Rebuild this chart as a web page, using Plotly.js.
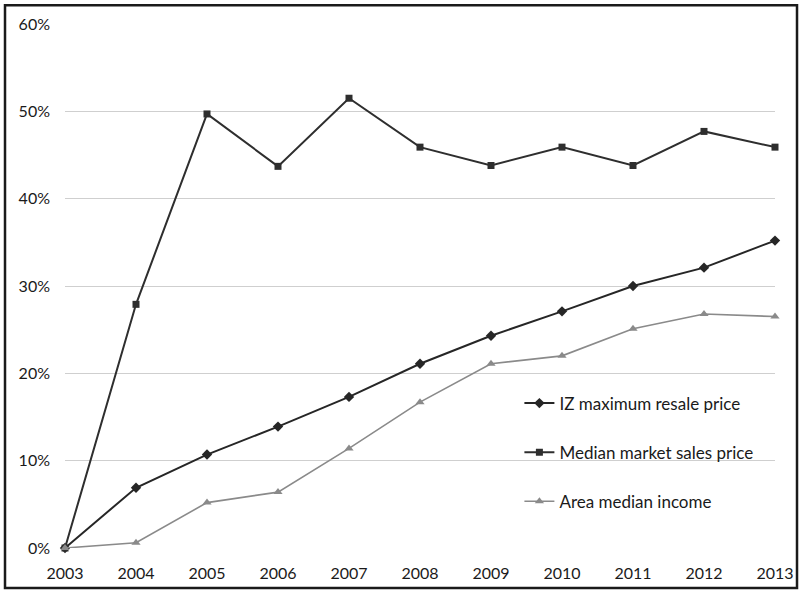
<!DOCTYPE html>
<html>
<head>
<meta charset="utf-8">
<script src="https://cdn.plot.ly/plotly-3.0.1.min.js"></script>
<style>
html,body{margin:0;padding:0;background:#fff;}
#chart{width:799px;height:591px;}
</style>
</head>
<body>
<div id="chart"></div>
<script>
var years = [2003, 2004, 2005, 2006, 2007, 2008, 2009, 2010, 2011, 2012, 2013];
var izMaxResale = [0, 0.069, 0.107, 0.139, 0.173, 0.211, 0.243, 0.271, 0.300, 0.321, 0.352];
var medianMarket = [0, 0.279, 0.497, 0.437, 0.515, 0.459, 0.438, 0.459, 0.438, 0.477, 0.459];
var areaIncome = [0, 0.006, 0.052, 0.064, 0.114, 0.167, 0.211, 0.220, 0.251, 0.268, 0.265];
var seriesNames = ['IZ maximum resale price', 'Median market sales price', 'Area median income'];
var yTicks = [0, 0.1, 0.2, 0.3, 0.4, 0.5, 0.6];
var yTickText = ['0%', '10%', '20%', '30%', '40%', '50%', '60%'];

var traces = [
  {x: years, y: izMaxResale, name: seriesNames[0], legendgroup: 'a', mode: 'lines+markers',
   line: {color: '#262626', width: 2}, marker: {symbol: 'diamond', size: 8, color: '#262626'}, cliponaxis: false},
  {x: years, y: medianMarket, name: seriesNames[1], legendgroup: 'b', mode: 'lines+markers',
   line: {color: '#2e2e2e', width: 2}, marker: {symbol: 'square', size: 7, color: '#2e2e2e'}, cliponaxis: false},
  {x: years, y: areaIncome, name: seriesNames[2], legendgroup: 'c', mode: 'lines+markers',
   line: {color: '#8a8a8a', width: 1.6}, marker: {symbol: 'triangle-up', size: 8, color: '#8a8a8a'}, cliponaxis: false}
];

var layout = {
  width: 799, height: 591,
  margin: {l: 65, r: 24, t: 24, b: 43},
  paper_bgcolor: '#ffffff', plot_bgcolor: '#ffffff',
  font: {family: 'Lato, "Open Sans", sans-serif', size: 16, color: '#1a1a1a'},
  showlegend: true,
  legend: {x: 0.64, y: 0.31, xanchor: 'left', yanchor: 'top', bgcolor: 'rgba(0,0,0,0)',
           traceorder: 'grouped', tracegroupgap: 24, font: {size: 17, color: '#1a1a1a'}, itemwidth: 30},
  xaxis: {range: [2003, 2013], tickvals: years, ticktext: years.map(String), showgrid: false,
          zeroline: false, showline: false, ticks: '', ticklabelstandoff: 14, fixedrange: true},
  yaxis: {range: [0, 0.6], tickvals: yTicks, ticktext: yTickText, showgrid: true, gridcolor: '#cfcfcf',
          gridwidth: 1, zeroline: false, showline: false, ticks: '', ticklabelstandoff: 14, fixedrange: true},
  shapes: [
    {type: 'rect', xref: 'paper', yref: 'paper', x0: -0.0845, x1: 1.031, y0: -0.0763, y1: 1.036,
     line: {color: '#1a1a1a', width: 2.5}, fillcolor: 'rgba(0,0,0,0)', layer: 'below'}
  ]
};

Plotly.newPlot('chart', traces, layout, {displayModeBar: false, staticPlot: true});
</script>
</body>
</html>
